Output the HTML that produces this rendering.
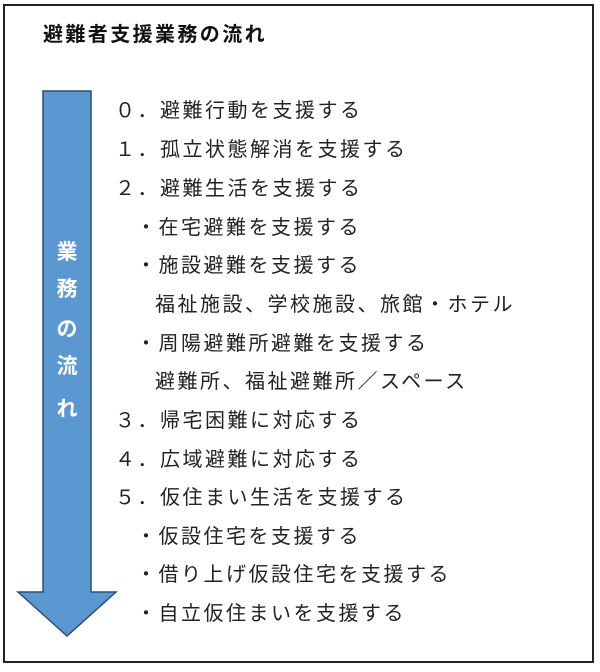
<!DOCTYPE html>
<html><head><meta charset="utf-8"><style>
body{margin:0;width:600px;height:672px;background:#fff;position:relative;overflow:hidden;font-family:"Liberation Sans","Noto Sans CJK JP",sans-serif;}
.frame{position:absolute;left:3px;top:4px;width:591px;height:659px;border:2px solid #222;box-sizing:border-box;}
.t{position:absolute;font-size:20px;letter-spacing:2.5px;color:#222;white-space:nowrap;line-height:24px;}
.title{position:absolute;left:43px;top:22px;font-size:20px;font-weight:bold;letter-spacing:2.4px;color:#111;line-height:26px;white-space:nowrap;}
.v{position:absolute;left:53px;width:28px;text-align:center;color:#fff;font-weight:bold;font-size:21px;line-height:24px;}
</style></head><body>
<div class="frame"></div>
<div class="title">避難者支援業務の流れ</div>
<svg width="600" height="672" style="position:absolute;left:0;top:0">
<polygon points="43,91 91,91 91,592 116,592 67,636 18,592 43,592" fill="#5b97d0" stroke="#2f4f6f" stroke-width="1.5"/>
</svg>
<div class="v" style="top:241px">業</div>
<div class="v" style="top:278px">務</div>
<div class="v" style="top:318px">の</div>
<div class="v" style="top:355px">流</div>
<div class="v" style="top:398px">れ</div>

<div class="t" style="left:115px;top:99px">０．避難行動を支援する</div>
<div class="t" style="left:115px;top:138px">１．孤立状態解消を支援する</div>
<div class="t" style="left:115px;top:177px">２．避難生活を支援する</div>
<div class="t" style="left:136px;top:216px">・在宅避難を支援する</div>
<div class="t" style="left:136px;top:254px">・施設避難を支援する</div>
<div class="t" style="left:155px;top:293px">福祉施設、学校施設、旅館・ホテル</div>
<div class="t" style="left:136px;top:332px">・周陽避難所避難を支援する</div>
<div class="t" style="left:155px;top:370px">避難所、福祉避難所／スペース</div>
<div class="t" style="left:115px;top:409px">３．帰宅困難に対応する</div>
<div class="t" style="left:115px;top:448px">４．広域避難に対応する</div>
<div class="t" style="left:115px;top:486px">５．仮住まい生活を支援する</div>
<div class="t" style="left:136px;top:525px">・仮設住宅を支援する</div>
<div class="t" style="left:136px;top:563px">・借り上げ仮設住宅を支援する</div>
<div class="t" style="left:136px;top:602px">・自立仮住まいを支援する</div>
</body></html>
